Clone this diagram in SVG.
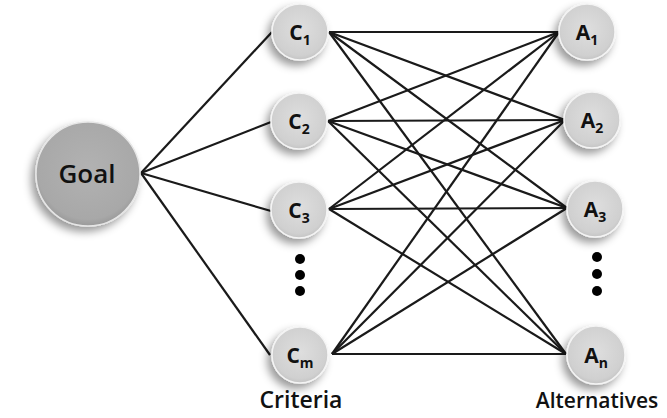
<svg xmlns="http://www.w3.org/2000/svg" width="667" height="418" viewBox="0 0 667 418">
<defs>
<radialGradient id="gSmall" cx="50%" cy="45%" r="55%">
<stop offset="0" stop-color="#dedede"/>
<stop offset="0.85" stop-color="#d0d0d0"/>
<stop offset="1" stop-color="#c4c4c4"/>
</radialGradient>
<radialGradient id="gGoal" cx="50%" cy="45%" r="55%">
<stop offset="0" stop-color="#b2b2b2"/>
<stop offset="0.88" stop-color="#a8a8a8"/>
<stop offset="1" stop-color="#9a9a9a"/>
</radialGradient>
<filter id="sh" x="-40%" y="-40%" width="180%" height="180%">
<feDropShadow dx="-4" dy="5" stdDeviation="4" flood-color="#000" flood-opacity="0.4"/>
</filter>
</defs>
<style>
.n{fill:url(#gSmall);stroke:#f4f4f4;stroke-width:1.5;filter:url(#sh)}
.g{fill:url(#gGoal);stroke:#e6e6e6;stroke-width:1.5;filter:url(#sh)}
.c line{stroke:#1a1a1a;stroke-width:2.2}
.t{font-family:"Open Sans","Liberation Sans",sans-serif;font-weight:600;fill:#111;text-anchor:middle}
.lb{font-size:21px;font-weight:700}
.sb{font-size:14px}
.dot{fill:#000}
</style>
<rect width="667" height="418" fill="#fff"/>
<g id="connectors" class="c">
<line x1="141" y1="173" x2="272" y2="32"/>
<line x1="141" y1="173" x2="271" y2="122"/>
<line x1="141" y1="173" x2="271" y2="211"/>
<line x1="141" y1="173" x2="270" y2="355"/>
<line x1="329" y1="32" x2="559" y2="32"/>
<line x1="329" y1="32" x2="565" y2="120"/>
<line x1="329" y1="32" x2="567" y2="208"/>
<line x1="329" y1="32" x2="566" y2="354"/>
<line x1="328" y1="121" x2="559" y2="32"/>
<line x1="328" y1="121" x2="565" y2="120"/>
<line x1="328" y1="121" x2="567" y2="208"/>
<line x1="328" y1="121" x2="566" y2="354"/>
<line x1="329" y1="209" x2="559" y2="32"/>
<line x1="329" y1="209" x2="565" y2="120"/>
<line x1="329" y1="209" x2="567" y2="208"/>
<line x1="329" y1="209" x2="566" y2="354"/>
<line x1="332" y1="354" x2="559" y2="32"/>
<line x1="332" y1="354" x2="565" y2="120"/>
<line x1="332" y1="354" x2="567" y2="208"/>
<line x1="332" y1="354" x2="566" y2="354"/>
</g>
<g id="goal">
<circle class="g" cx="88" cy="174" r="52"/>
<text class="t" x="87" y="183" font-size="26" font-weight="700">Goal</text>
</g>
<g id="c1">
<circle class="n" cx="300" cy="32" r="28"/>
<text class="t lb" x="300" y="40">C<tspan class="sb" dy="5">1</tspan></text>
</g>
<g id="c2">
<circle class="n" cx="299" cy="121" r="28"/>
<text class="t lb" x="299" y="129">C<tspan class="sb" dy="5">2</tspan></text>
</g>
<g id="c3">
<circle class="n" cx="299" cy="210" r="28"/>
<text class="t lb" x="299" y="218">C<tspan class="sb" dy="5">3</tspan></text>
</g>
<g id="cdots">
<circle class="dot" cx="300" cy="259" r="5"/>
<circle class="dot" cx="300" cy="275" r="5"/>
<circle class="dot" cx="300" cy="291" r="5"/>
</g>
<g id="cm">
<circle class="n" cx="300" cy="355" r="28"/>
<text class="t lb" x="300" y="363">C<tspan class="sb" dy="5">m</tspan></text>
</g>
<g id="a1">
<circle class="n" cx="587" cy="32" r="28"/>
<text class="t lb" x="587" y="40">A<tspan class="sb" dy="5">1</tspan></text>
</g>
<g id="a2">
<circle class="n" cx="592" cy="120" r="28"/>
<text class="t lb" x="592" y="128">A<tspan class="sb" dy="5">2</tspan></text>
</g>
<g id="a3">
<circle class="n" cx="595" cy="209" r="28"/>
<text class="t lb" x="595" y="217">A<tspan class="sb" dy="5">3</tspan></text>
</g>
<g id="adots">
<circle class="dot" cx="597" cy="257" r="5"/>
<circle class="dot" cx="597" cy="274" r="5"/>
<circle class="dot" cx="597" cy="291" r="5"/>
</g>
<g id="an">
<circle class="n" cx="596" cy="355" r="29"/>
<text class="t lb" x="596" y="363">A<tspan class="sb" dy="5">n</tspan></text>
</g>
<g id="labels">
<text class="t" x="301" y="408" font-size="23">Criteria</text>
<text class="t" x="597" y="408" font-size="21">Alternatives</text>
</g>
</svg>
